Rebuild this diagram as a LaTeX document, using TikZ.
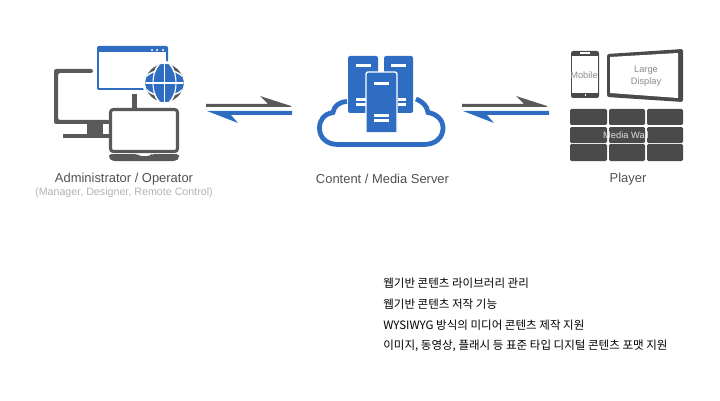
\documentclass[tikz,border=0pt]{standalone}
\usepackage{fontspec}
\setmainfont{Liberation Sans}
\newfontfamily\kofont{Noto Sans CJK KR}
\usetikzlibrary{positioning}
\definecolor{iconblue}{HTML}{2E6DC1}
\definecolor{icongray}{HTML}{595959}
\definecolor{walldark}{HTML}{4A4A4A}
\tikzset{
	caption/.style={text=icongray!90!black, font=\fontsize{9.2}{10}\selectfont, inner sep=0pt},
	subcaption/.style={text=black!30, font=\fontsize{7.6}{10}\selectfont, inner sep=0pt},
	screenlabel/.style={text=black!45, font=\fontsize{6.6}{8}\selectfont, inner sep=0pt, align=center},
	walllabel/.style={text=black!12, font=\fontsize{6.6}{8}\selectfont, inner sep=0pt},
	feature/.style={text=black, font=\kofont\fontsize{8.2}{10}\selectfont, inner sep=0pt, anchor=west, text height=7pt, text depth=2pt},
}
\begin{document}
\begin{tikzpicture}[x=0.025cm, y=-0.025cm]
	\useasboundingbox (0,0) rectangle (720,400);

	% monitor
	\fill[icongray, rounded corners=1.5] (93,69) -- (54,69) -- (54,124) -- (110,124) -- (110,120) -- (58,120) -- (58,73) -- (93,73) -- cycle;
	\fill[icongray] (87,124) rectangle (103,135);
	\fill[icongray] (63,134) rectangle (110,138);
	\fill[icongray] (132,94) rectangle (137,109);

	% window
	\fill[iconblue, rounded corners=1] (97,46) rectangle (168,90);
	\fill[white] (99,52) rectangle (166,88);
	\foreach \dotx in {152,157,163}
		\fill[white] (\dotx,50) circle (1.1);

	% globe
	\fill[white] (164.5,83) circle (22);
	\begin{scope}
		\clip (164.5,83) circle (19);
		\fill[icongray] (145,63) rectangle (184,103);
		\draw[white, line width=1pt, fill=iconblue] (164.5,83) ellipse (21 and 13);
		\draw[white, line width=1pt, fill=iconblue] (164.5,83) ellipse (11.5 and 21);
		\fill[iconblue] (164.5,83) ellipse (19 and 12);
		\draw[white, line width=1pt] (145,83) -- (184,83);
		\draw[white, line width=1pt] (164.5,63) -- (164.5,103);
		\draw[white, line width=0.8pt] (164.5,83) ellipse (11.5 and 21);
	\end{scope}

	% laptop
	\draw[icongray, line width=2.2pt, fill=white, rounded corners=2] (110.5,109.5) rectangle (177.5,151.5);
	\fill[icongray, rounded corners=2] (109,154) -- (137,154) -- (139,156) -- (150,156) -- (152,154) -- (179,154) -- (179,158) -- (176,161) -- (112,161) -- (109,158) -- cycle;

	% half arrows
	\foreach \dx/\extra in {0/0, 256/1}
	{
		\fill[icongray] (206+\dx,104) -- (268+\dx,104) -- (260+\dx,96) -- (291+\dx,106) -- (291+\dx,107) -- (206+\dx,107) -- cycle;
		\fill[iconblue] (207+\dx,111) -- (292+\extra+\dx,111) -- (292+\extra+\dx,115) -- (231+\dx,115) -- (238+\dx,123) -- cycle;
	}

	% cloud
	\draw[iconblue, line width=3.4pt] (347,101.5) .. controls (339,102) and (334,106) .. (333,112.5)
		.. controls (324,114) and (319.5,120) .. (319.5,128) .. controls (319.5,138) and (327,144.5) .. (338,144.5)
		-- (424,144.5) .. controls (435,144.5) and (443,138) .. (443,128) .. controls (443,120) and (437,114) .. (428,112.5)
		.. controls (427,106) and (423,102) .. (416,99);

	% servers
	\fill[iconblue, rounded corners=1.5] (348,113) -- (348,56) -- (378,56) -- (378,113) -- cycle;
	\fill[iconblue, rounded corners=1.5] (384,113) -- (384,56) -- (413,56) -- (413,113) -- cycle;
	\draw[white, line width=1pt, fill=iconblue, rounded corners=1.5] (366,132) -- (366,72) -- (397,72) -- (397,132);
	\fill[iconblue] (367,125) rectangle (396,131);
	\foreach \slotx in {356,391}
		\fill[white] (\slotx,64) rectangle ++(15,3);
	\foreach \sloty in {98,103}
	{
		\fill[white] (356,\sloty) rectangle (365.5,\sloty+3);
		\fill[white] (397.5,\sloty) rectangle (406,\sloty+3);
	}
	\foreach \sloty in {82,114,119}
		\fill[white] (374,\sloty) rectangle ++(15,3);

	% player screens
	\fill[walldark, rounded corners=1.5] (571,51) rectangle (599,98);
	\fill[white] (572,56) rectangle (598,93);
	\fill[white] (580,52.5) rectangle (590,54);
	\fill[white] (584.5,94.5) rectangle (586,96);
	\fill[walldark, rounded corners=1.5] (607,54) -- (683,49) -- (683,102) -- (607,97) -- cycle;
	\fill[white] (610,57) -- (678,53) -- (678,98) -- (610,93) -- cycle;
	\foreach \wallx/\wallw in {570/37, 609/36, 647/36}
		\foreach \wally/\wallh in {109/16, 127/16, 144/17}
			\fill[walldark, rounded corners=1] (\wallx,\wally) rectangle ++(\wallw,\wallh);

	% labels
	\node[caption] (admin) at (124,179) {Administrator / Operator};
	\node[subcaption] (adminsub) at (124,193) {(Manager, Designer, Remote Control)};
	\node[caption] (server) at (382.5,179) {Content / Media Server};
	\node[caption] (player) at (628,179) {Player};
	\node[screenlabel] (mobile) at (584,75) {Mobile};
	\node[screenlabel] (large) at (646,76) {Large\\[0.5pt]Display};
	\node[walllabel] (wall) at (626,135) {Media Wall};

	\node[feature] (line1) at (383,284) {웹기반 콘텐츠 라이브러리 관리};
	\node[feature] (line2) at (383,304.5) {웹기반 콘텐츠 저작 기능};
	\node[feature] (line3) at (383,325.5) {WYSIWYG 방식의 미디어 콘텐츠 제작 지원};
	\node[feature] (line4) at (383,346) {이미지, 동영상, 플래시 등 표준 타입 디지털 콘텐츠 포맷 지원};
\end{tikzpicture}
\end{document}
